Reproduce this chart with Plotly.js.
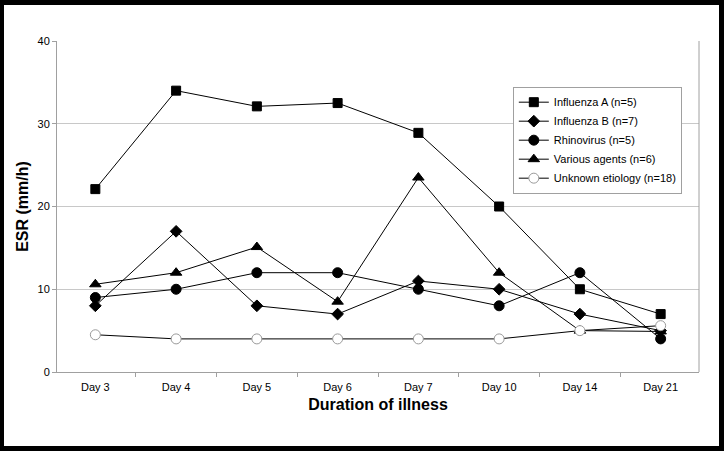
<!DOCTYPE html>
<html>
<head>
<meta charset="utf-8">
<script src="https://cdn.plot.ly/plotly-3.0.1.min.js"></script>
<style>
  html, body { margin: 0; padding: 0; background: #000; width: 724px; height: 451px; overflow: hidden; }
  #chart { position: absolute; left: 4px; top: 5px; width: 715px; height: 441px; background: #fff; }
</style>
</head>
<body>
<div id="chart"></div>
<script>
const days = ["Day 3", "Day 4", "Day 5", "Day 6", "Day 7", "Day 10", "Day 14", "Day 21"];
const influenzaA = [22.1, 34.0, 32.1, 32.5, 28.9, 20.0, 10.0, 7.0];
const influenzaB = [8.0, 17.0, 8.0, 7.0, 11.0, 10.0, 7.0, 5.0];
const rhinovirus = [9.0, 10.0, 12.0, 12.0, 10.0, 8.0, 12.0, 4.0];
const variousAgents = [10.6, 12.0, 15.1, 8.5, 23.5, 12.0, 5.0, 4.9];
const unknownEtiology = [4.5, 4.0, 4.0, 4.0, 4.0, 4.0, 5.0, 5.6];
const seriesNames = ["Influenza A (n=5)", "Influenza B (n=7)", "Rhinovirus (n=5)", "Various agents (n=6)", "Unknown etiology (n=18)"];

const font = "Liberation Sans, Arial, sans-serif";
function tr(name, y, symbol, size, fill, lineColor) {
  return {
    type: "scatter", mode: "lines+markers", name: name, x: days, y: y,
    line: { color: "#000", width: 1 },
    marker: { symbol: symbol, size: size, color: fill, line: { color: lineColor, width: 1 } }
  };
}
const data = [
  tr(seriesNames[0], influenzaA, "square", 9, "#000", "#000"),
  tr(seriesNames[1], influenzaB, "diamond", 9, "#000", "#000"),
  tr(seriesNames[2], rhinovirus, "circle", 10, "#000", "#000"),
  tr(seriesNames[3], variousAgents, "triangle-up", 10, "#000", "#000"),
  tr(seriesNames[4], unknownEtiology, "circle", 10, "#fff", "#9a9a9a")
];
const layout = {
  width: 715, height: 441,
  margin: { l: 53, r: 20, t: 36, b: 74 },
  paper_bgcolor: "#fff", plot_bgcolor: "#fff",
  font: { family: font, size: 11, color: "#000" },
  showlegend: true,
  legend: {
    x: 0.71, y: 0.862, xanchor: "left", yanchor: "top",
    bgcolor: "#fff", bordercolor: "#a0a0a0", borderwidth: 1,
    font: { family: font, size: 11, color: "#000" },
    itemwidth: 30, tracegroupgap: 0
  },
  xaxis: {
    type: "category", tickson: "boundaries", ticks: "outside", ticklen: 4, tickcolor: "#a0a0a0",
    showline: true, linecolor: "#a0a0a0", linewidth: 1, mirror: false,
    showgrid: false, zeroline: false, ticklabelstandoff: 5,
    tickfont: { family: font, size: 11 },
    title: { text: "Duration of illness", font: { family: font, size: 16, weight: "bold" }, standoff: 6 }
  },
  yaxis: {
    range: [0, 40], dtick: 10, ticks: "outside", ticklen: 4, tickcolor: "#a0a0a0",
    showline: true, linecolor: "#a0a0a0", linewidth: 1,
    showgrid: true, gridcolor: "#c8c8c8", gridwidth: 1, zeroline: false,
    tickfont: { family: font, size: 11 },
    title: { text: "ESR (mm/h)", font: { family: font, size: 16, weight: "bold" }, standoff: 4 }
  },
  shapes: [
    { type: "line", xref: "paper", yref: "paper", x0: 1, x1: 1, y0: 0, y1: 1, line: { color: "#a0a0a0", width: 1 } }
  ]
};
Plotly.newPlot("chart", data, layout, { displayModeBar: false, staticPlot: true });
</script>
</body>
</html>
